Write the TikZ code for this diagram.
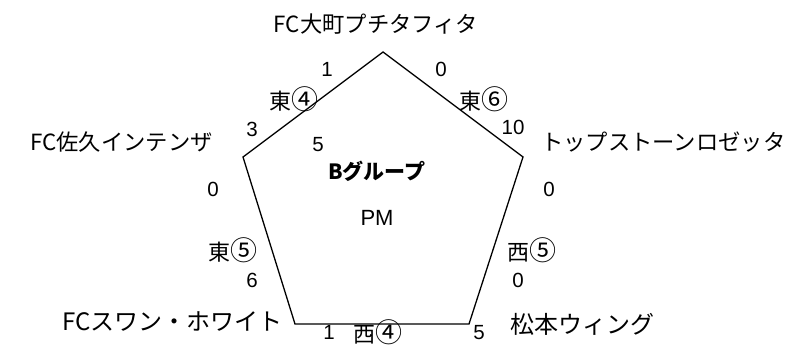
\documentclass[tikz,border=0pt]{standalone}
\usepackage{fontspec}
\setmainfont{Liberation Sans}
\newfontfamily\jp{Noto Sans CJK JP}
\newcommand{\circnum}[1]{{\fontsize{27}{28}\selectfont #1}}
\begin{document}
\begin{tikzpicture}[x=1pt,y=-1pt,
  team/.style={inner sep=0pt, font=\jp\fontsize{22.3}{24}\selectfont},
  bigteam/.style={inner sep=0pt, font=\jp\fontsize{24}{26}\selectfont},
  num/.style={inner sep=0pt, font=\fontsize{20.5}{22}\selectfont},
  side/.style={inner sep=0pt, font=\jp\fontsize{22}{24}\selectfont},
  edge/.style={line width=1.3pt, line join=miter},
  ]
\useasboundingbox (0,0) rectangle (788,350);
\coordinate (vT) at (383,52);
\coordinate (vUR) at (523,157);
\coordinate (vLR) at (469,324);
\coordinate (vLL) at (295,324);
\coordinate (vUL) at (243,157);
\draw[edge] (vT) -- (vUR) -- (vLR) -- (vLL) -- (vUL) -- cycle;

% teams
\node[team] (tT) at (376,24) {FC大町プチタフィタ};
\node[team, anchor=west] (tR) at (541,142) {トップストーンロゼッタ};
\node[team, anchor=east] (tL) at (213,142) {FC佐久インテンザ};
\node[bigteam, anchor=east] (tBL) at (283,322) {FCスワン・ホワイト};
\node[bigteam, anchor=west] (tBR) at (510,324) {松本ウィング};

% centre
\node[inner sep=0pt, font=\jp\bfseries\fontsize{21}{24}\selectfont] (grp) at (377,171) {Bグループ};
\node[inner sep=0pt, font=\fontsize{22}{24}\selectfont] (pm) at (377,218) {PM};

% upper-left edge
\node[num] (n1) at (327,69) {1};
\node[side] (e4) at (294,99) {東\circnum{④}};
\node[num] (n3) at (252,129) {3};
\node[num] (n5) at (318,145) {5};
% upper-right edge
\node[num] (n0a) at (441,69) {0};
\node[side] (e6) at (484,99) {東\circnum{⑥}};
\node[num] (n10) at (513,127) {10};
% left edge
\node[num] (n0b) at (213,189) {0};
\node[side] (e5) at (233,250) {東\circnum{⑤}};
\node[num] (n6) at (252,280) {6};
% right edge
\node[num] (n0c) at (549,189) {0};
\node[side] (w5) at (532,250) {西\circnum{⑤}};
\node[num] (n0d) at (518,280) {0};
% bottom edge
\node[num] (n1b) at (329,332) {1};
\node[side] (w4) at (378,332) {西\circnum{④}};
\node[num] (n5b) at (479,333) {5};
\end{tikzpicture}
\end{document}
